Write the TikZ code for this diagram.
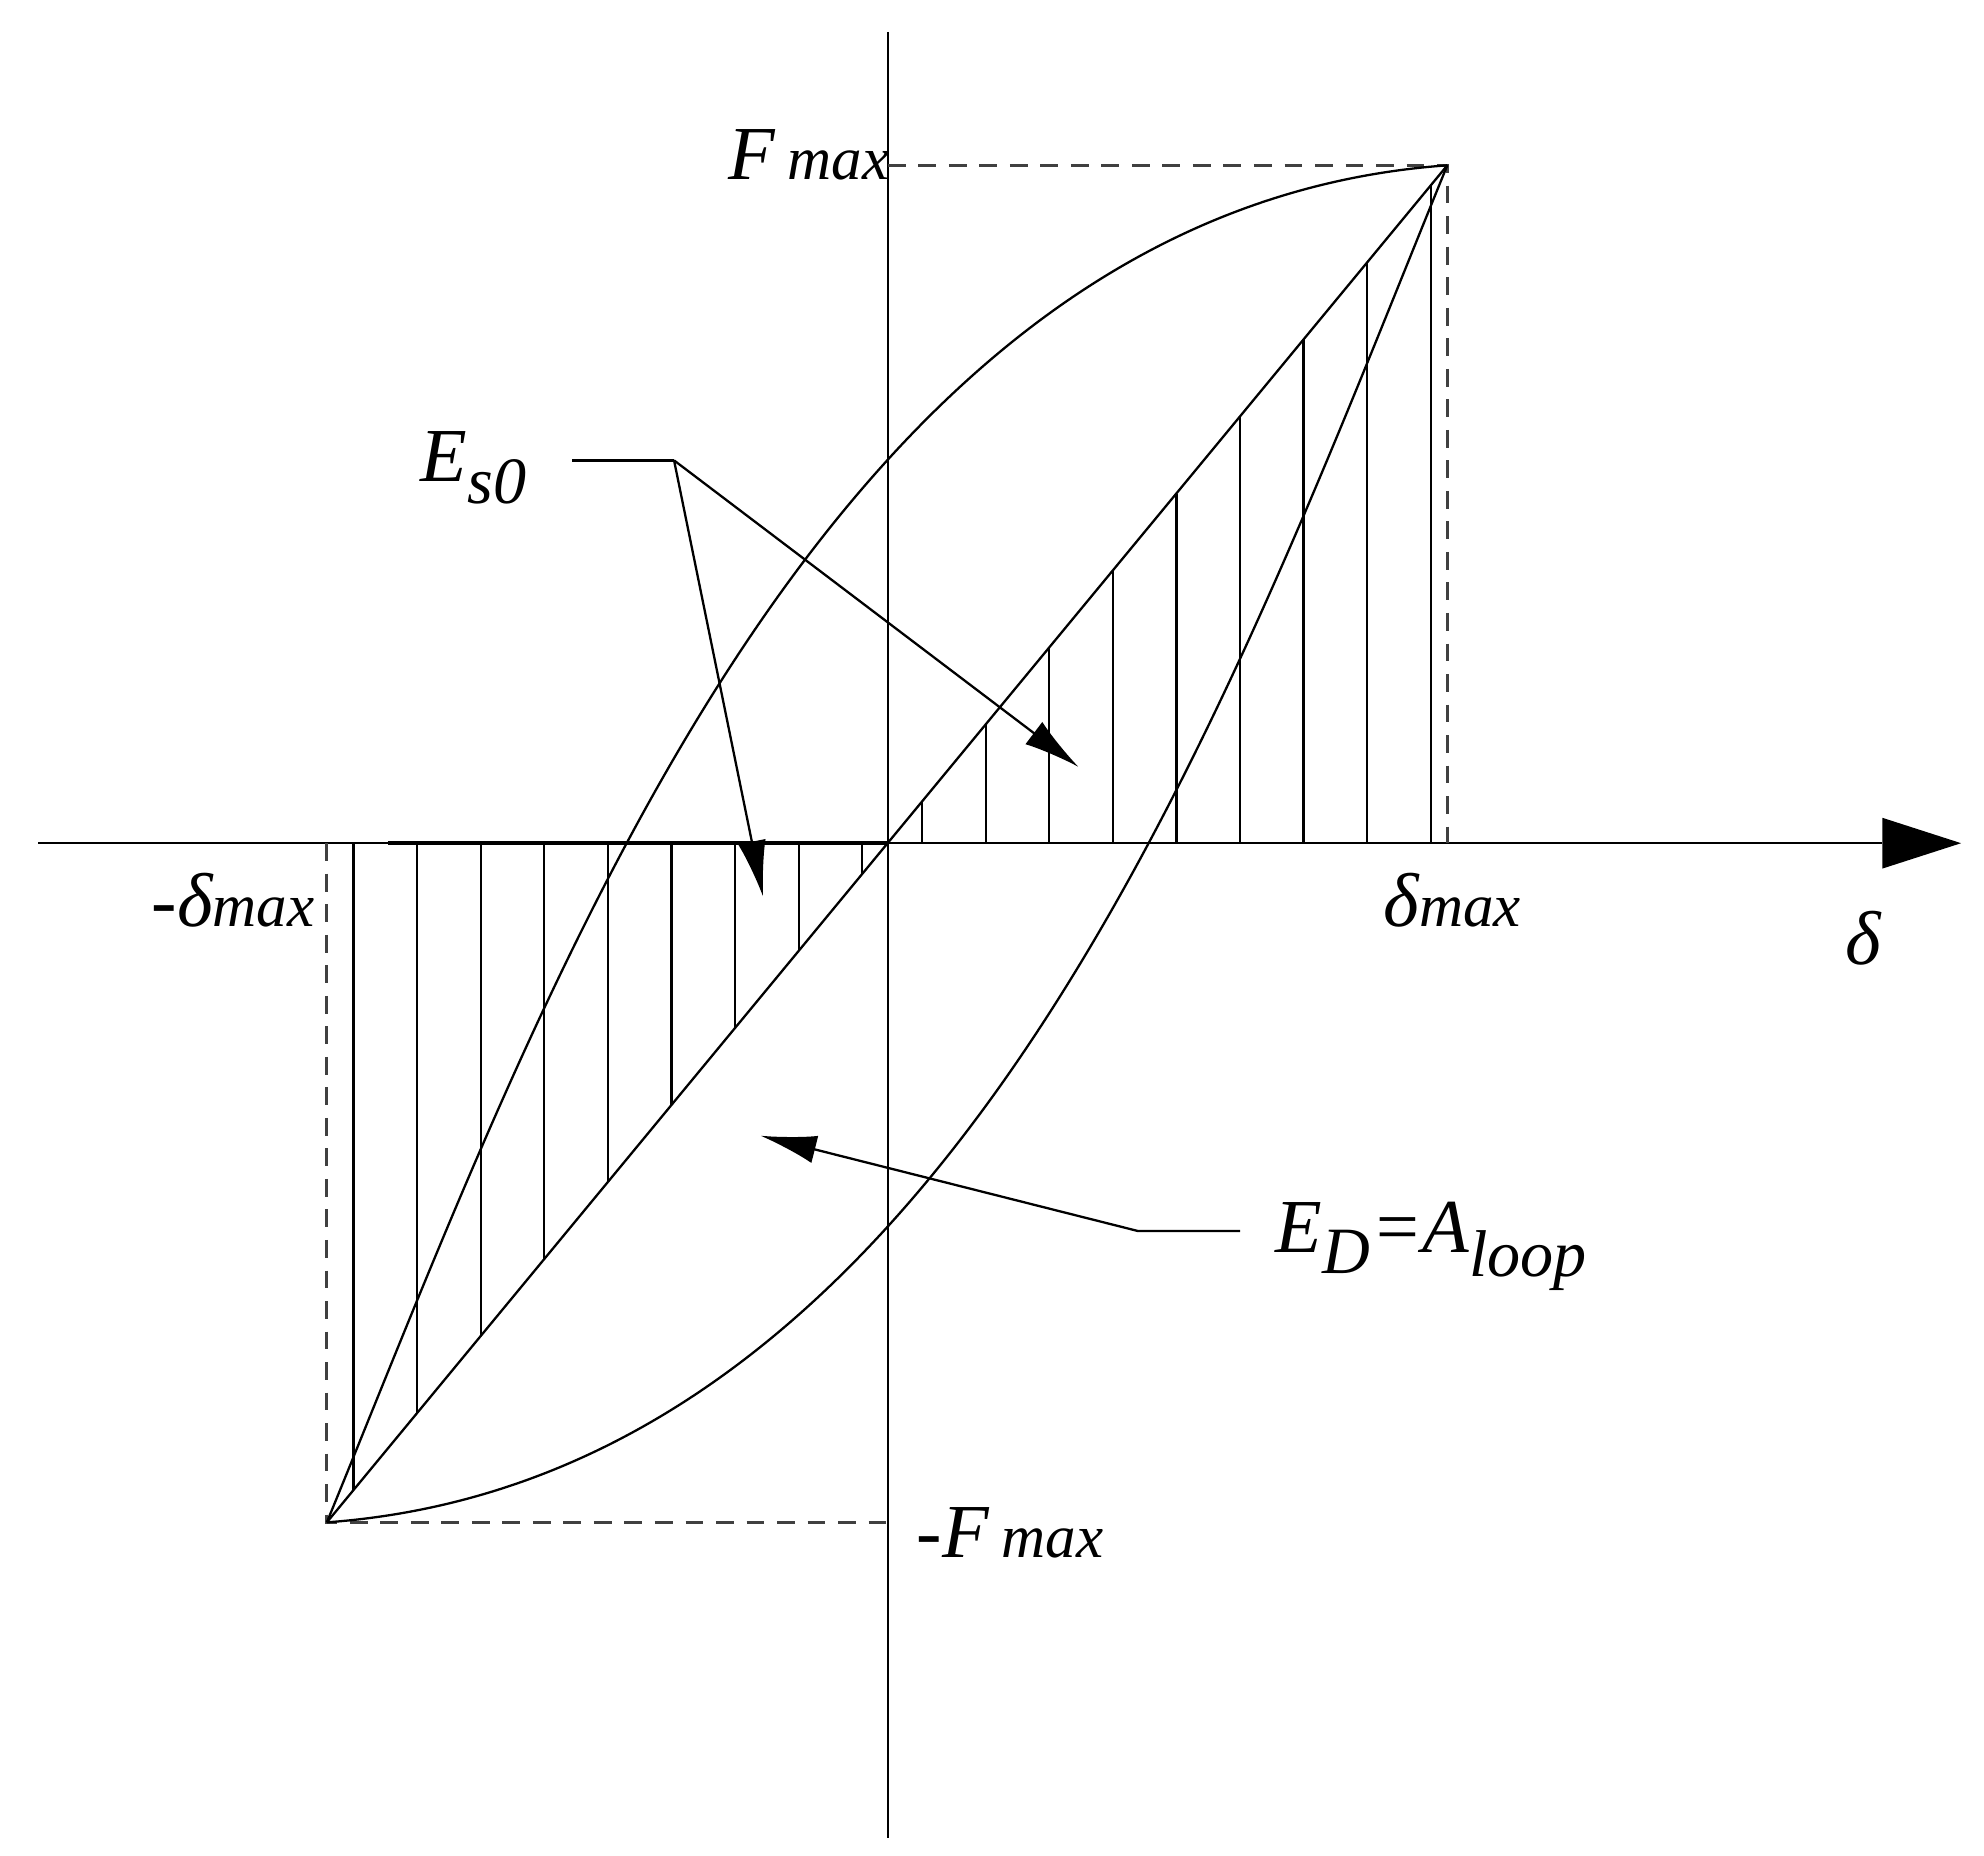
\documentclass[tikz,border=0pt]{standalone}
\usepackage{fontspec}
\setmainfont{Liberation Serif}
\usetikzlibrary{arrows.meta}
\begin{document}
\begin{tikzpicture}[x=0.5pt,y=-0.5pt,line width=0.9pt,
  dsh/.style={line width=1.2pt,black!75,dash pattern=on 7pt off 5pt},
  lab/.style={font=\fontsize{30}{36}\selectfont\itshape,inner sep=0pt},
  arr/.style={-{Latex[length=22pt,width=11pt]}}]
\useasboundingbox (0,0) rectangle (1560,1459);
\coordinate (O) at (698,663);
\coordinate (P) at (1138,130);
\coordinate (N) at (257,1197);
% axes
\draw (698,25) -- (698,1445);
\draw (30,663) -- (1480,663);
\fill (1480,643) -- (1542,663) -- (1480,683) -- cycle;
\draw[line width=1.4pt] (305,663) -- (698,663);
% dashed
\draw[dsh] (698,130) -- (P) -- (1138,663);
\draw[dsh] (257,663) -- (N) -- (698,1197);
% hatching
\foreach \x in {278,328,...,678} \draw (\x,663) -- (\x,{663-(\x-698)*1.2111});
\foreach \x in {725,775,...,1125} \draw (\x,663) -- (\x,{663-(\x-698)*1.2111});
% loop
\draw (N) -- (P);
\draw (N) .. controls (428,780) and (645,165) .. (P);
\draw (N) .. controls (751,1161) and (968,546) .. (P);
% labels
\node[lab,anchor=east] (fmax) at (700,122) {F\,\fontsize{24}{28}\selectfont max};
\node[lab,anchor=west] (nfmax) at (720,1205) {-F\,\fontsize{24}{28}\selectfont max};
\node[lab,anchor=east] (ndmax) at (248,708) {-δ\fontsize{24}{28}\selectfont max};
\node[lab] (dmax) at (1142,708) {δ\fontsize{24}{28}\selectfont max};
\node[lab] (d) at (1465,738) {δ};
\node[lab,anchor=west] (es) at (330,368) {E\textsubscript{\fontsize{26}{30}\selectfont s0}};
\node[lab,anchor=west] (ed) at (1002,980) {E\textsubscript{\fontsize{26}{30}\selectfont D}=A\textsubscript{\fontsize{26}{30}\selectfont loop}};
\coordinate (e1) at (450,362);
\coordinate (e2) at (530,362);
\coordinate (a1) at (600,705);
\coordinate (a2) at (848,603);
\draw (e1) -- (e2);
\draw[arr] (e2) -- (a1);
\draw[arr] (e2) -- (a2);
\coordinate (d1) at (975,968);
\coordinate (d2) at (895,968);
\coordinate (d3) at (598,893);
\draw[arr] (d1) -- (d2) -- (d3);
\end{tikzpicture}
\end{document}
